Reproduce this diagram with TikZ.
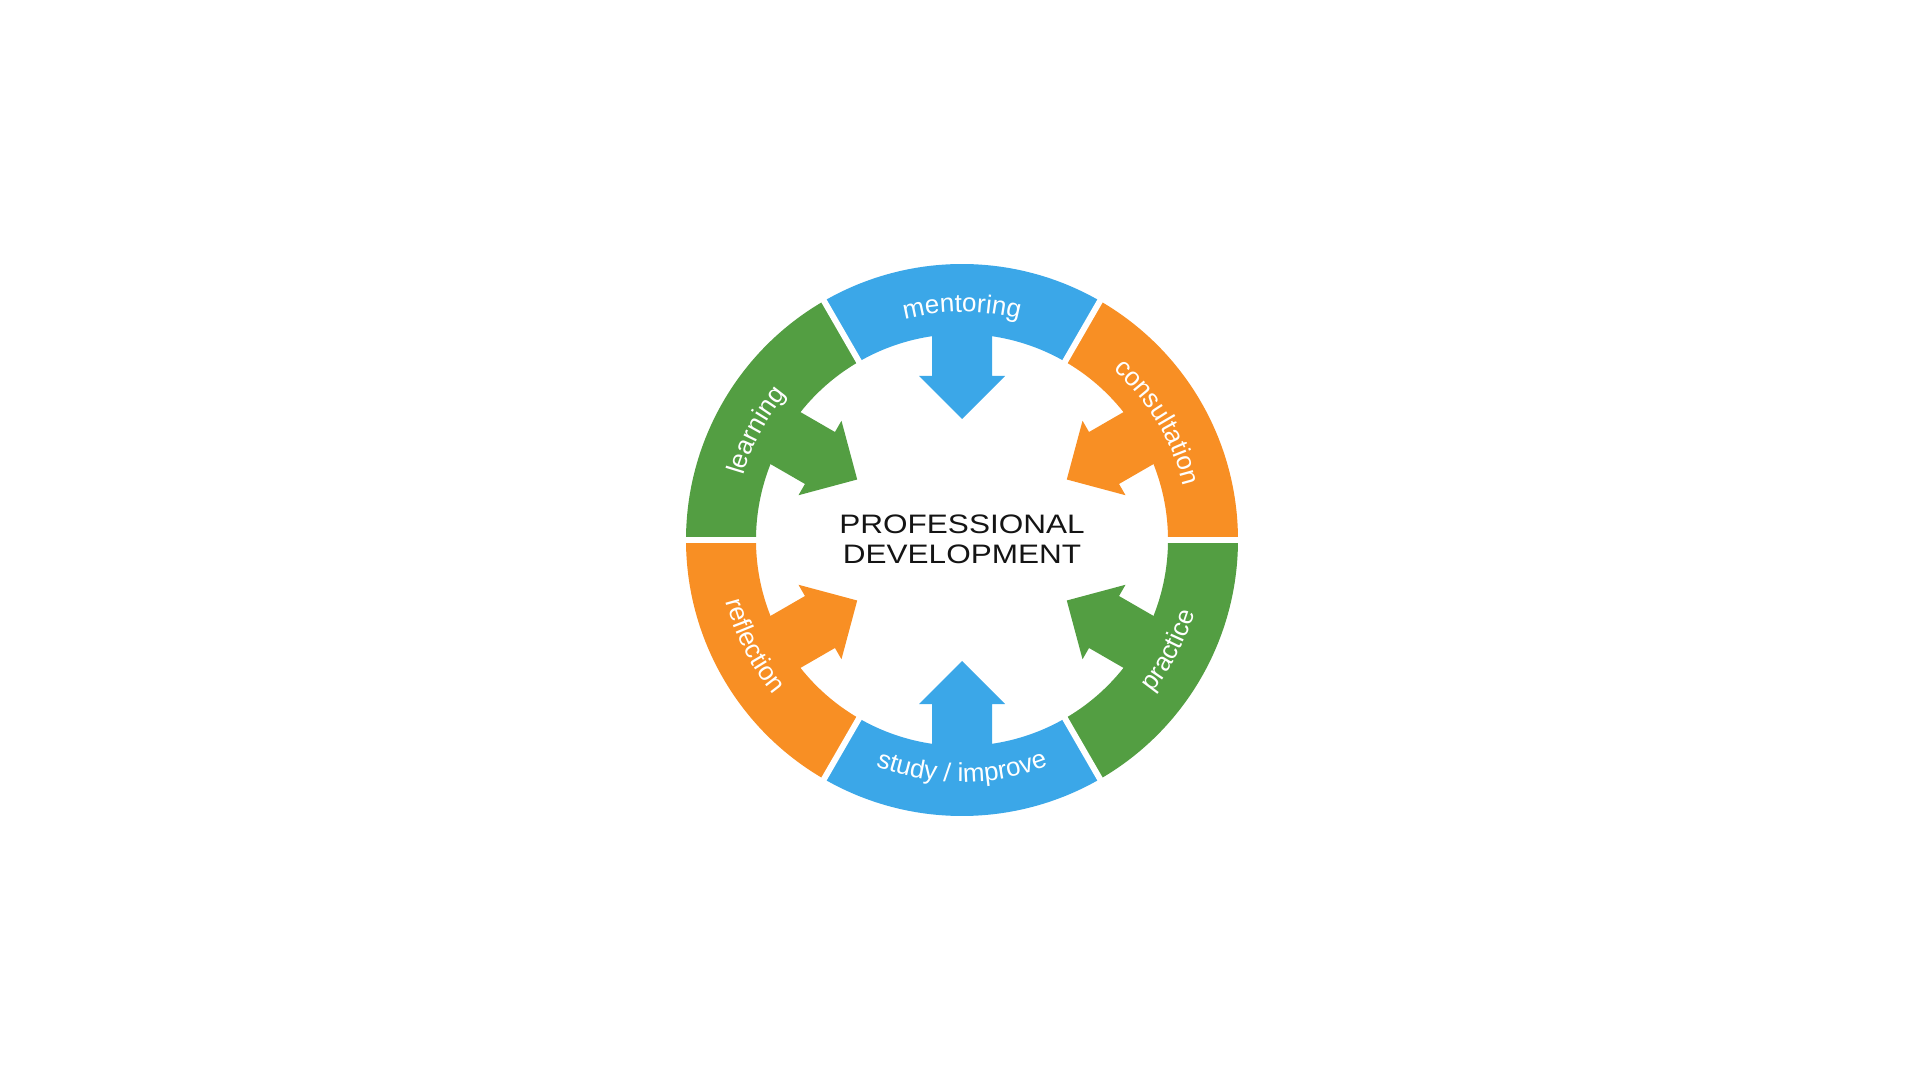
\documentclass[tikz,border=0pt]{standalone}
\usepackage{fontspec}
\setmainfont{Liberation Sans}
\newfontfamily\labelfont{Liberation Sans}
\newfontfamily\centerfont[FakeStretch=1.18]{Liberation Sans}
\usetikzlibrary{decorations.text}

\definecolor{pdblue}{RGB}{59,167,232}
\definecolor{pdgreen}{RGB}{83,158,66}
\definecolor{pdorange}{RGB}{248,143,36}
\definecolor{pdtext}{RGB}{20,20,20}

\tikzset{
    arclabel/.style={decorate,decoration={text along path,text align=center,
        text color=white,text={|\labelfont\fontsize{7.4}{9}\selectfont|#1}}},
    gapline/.style={white,line width=0.06cm}
}

\begin{document}
\begin{tikzpicture}[rin/.store in=\rin,rin=2.06,rout/.store in=\rout,rout=2.76]
    \useasboundingbox (-9.62,-5.40) rectangle (9.58,5.40);

    % ring segments with their arrows
    \foreach \a/\col in {90/pdblue,150/pdgreen,210/pdorange,270/pdblue,330/pdgreen,30/pdorange} {
        \fill[\col] ({\a-30}:\rin) arc[start angle=\a-30,end angle=\a+30,radius=\rin]
            -- ({\a+30}:\rout) arc[start angle=\a+30,end angle=\a-30,radius=\rout] -- cycle;
        \fill[\col,rotate=\a] (2.2,0.30) -- (1.64,0.30) -- (1.64,0.43) -- (1.21,0)
            -- (1.64,-0.43) -- (1.64,-0.30) -- (2.2,-0.30) -- cycle;
    }
    \foreach \a in {0,60,...,300}
        \draw[gapline] (\a:1.95) -- (\a:2.85);

    \node[align=center,text=pdtext,font=\centerfont\fontsize{7.6}{8.6}\selectfont] (pd) at (0,0.01)
        {PROFESSIONAL\\DEVELOPMENT};

    \path[arclabel={mentoring}]    (120:2.28) arc[start angle=120,end angle=60,radius=2.28];
    \path[arclabel={consultation}] (61:2.28)  arc[start angle=61,end angle=1,radius=2.28];
    \path[arclabel={learning}]     (182:2.28) arc[start angle=182,end angle=122,radius=2.28];
    \path[arclabel={reflection}]   (177:2.44) arc[start angle=177,end angle=237,radius=2.44];
    \path[arclabel={study / improve}] (240:2.42) arc[start angle=240,end angle=300,radius=2.42];
    \path[arclabel={practice}]     (302:2.44) arc[start angle=302,end angle=362,radius=2.44];
\end{tikzpicture}
\end{document}
